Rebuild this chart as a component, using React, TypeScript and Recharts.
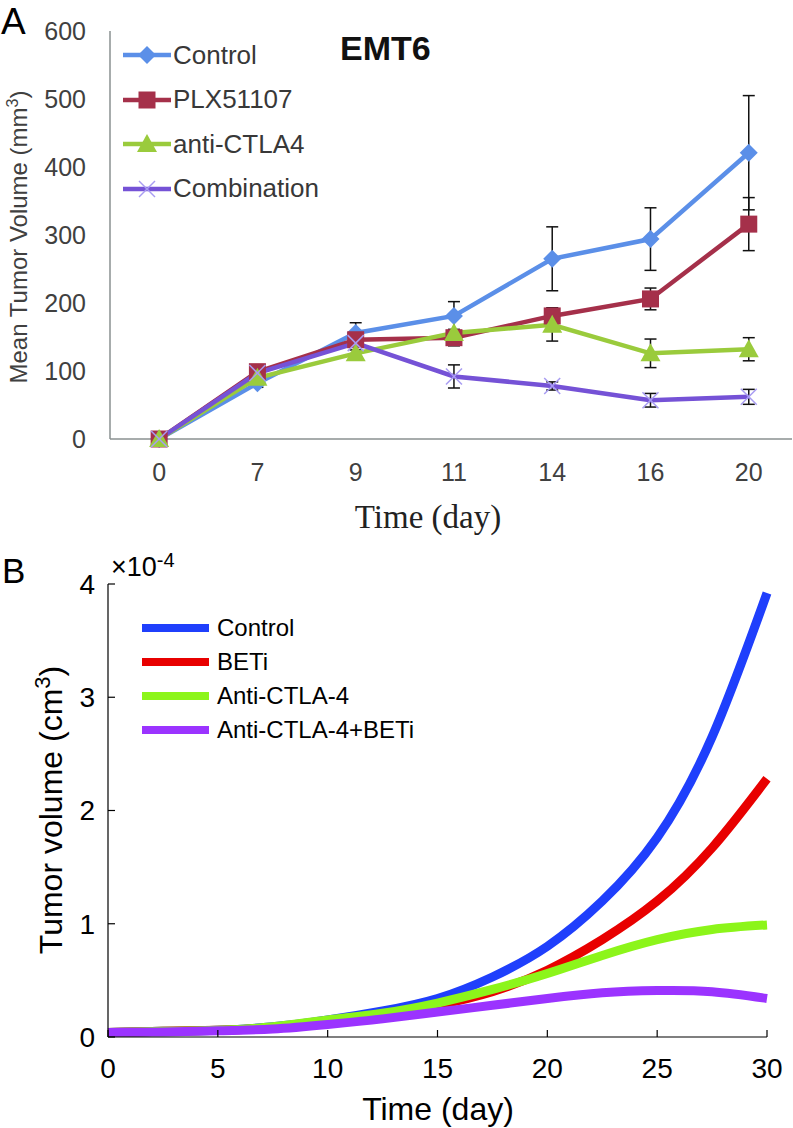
import React from 'react';
import { LineChart, Line, XAxis, YAxis, ErrorBar, Legend } from 'recharts';

// Panel A: measured mean tumour volume (mm3) per day
const daysA = ['0', '7', '9', '11', '14', '16', '20'];
const controlA = [0, 82, 156, 181, 265, 294, 421];
const controlErrA = [null, 6, 15, 21, 47, 46, 84];
const plxA = [0, 99, 146, 149, 181, 206, 316];
const plxErrA = [null, 9, 5, 12, 12, 16, 39];
const antiA = [0, 90, 126, 156, 168, 126, 132];
const antiErrA = [null, 5, 5, 5, 24, 21, 17];
const comboA = [0, 97, 141, 92, 78, 57, 62];
const comboErrA = [null, 5, 5, 17, 6, 10, 11];
const yTicksA = [0, 100, 200, 300, 400, 500, 600];

// Panel B: model curves (x 10^-4 cm3)
const timeB = [0, 2.5, 5, 7.5, 10, 12.5, 15, 17.5, 20, 22.5, 25, 27.5, 30];
const controlB = [0.04, 0.05, 0.06, 0.09, 0.15, 0.23, 0.34, 0.53, 0.8, 1.2, 1.76, 2.65, 3.92];
const betiB = [0.04, 0.05, 0.06, 0.08, 0.13, 0.19, 0.28, 0.4, 0.59, 0.86, 1.2, 1.67, 2.28];
const antiB = [0.04, 0.05, 0.06, 0.09, 0.15, 0.21, 0.3, 0.42, 0.56, 0.72, 0.86, 0.95, 0.99];
const comboB = [0.04, 0.045, 0.055, 0.07, 0.11, 0.16, 0.22, 0.28, 0.34, 0.39, 0.41, 0.4, 0.34];
const xTicksB = [0, 5, 10, 15, 20, 25, 30];
const yTicksB = [0, 1, 2, 3, 4];

const FONT = '"Liberation Sans", Arial, Helvetica, sans-serif';
const SERIF = '"Liberation Serif", "Times New Roman", serif';

const BLUE_A = '#5b8fe8';
const RED_A = '#a5304a';
const GREEN_A = '#9acb3c';
const PURPLE_A = '#7552d6';
const CROSS_A = '#a89cf2';

const BLUE_B = '#1f3ffc';
const RED_B = '#e80000';
const GREEN_B = '#8cf51a';
const PURPLE_B = '#9b33ff';

type Shape = 'diamond' | 'square' | 'triangle' | 'cross';

const rowsA = daysA.map((_, i) => ({
  idx: i,
  control: controlA[i],
  controlErr: controlErrA[i],
  plx: plxA[i],
  plxErr: plxErrA[i],
  anti: antiA[i],
  antiErr: antiErrA[i],
  combo: comboA[i],
  comboErr: comboErrA[i],
}));

const rowsB = timeB.map((t, i) => ({
  t,
  control: controlB[i],
  beti: betiB[i],
  anti: antiB[i],
  combo: comboB[i],
}));

function marker(shape: Shape, cx: number, cy: number, color: string, key?: string) {
  if (shape === 'diamond') {
    return <polygon key={key} points={`${cx},${cy - 9} ${cx + 9},${cy} ${cx},${cy + 9} ${cx - 9},${cy}`} fill={color} />;
  }
  if (shape === 'square') {
    return <rect key={key} x={cx - 8.5} y={cy - 8.5} width={17} height={17} fill={color} />;
  }
  if (shape === 'triangle') {
    return <polygon key={key} points={`${cx},${cy - 10} ${cx + 10},${cy + 8} ${cx - 10},${cy + 8}`} fill={color} />;
  }
  return (
    <g key={key}>
      <line x1={cx - 8} y1={cy - 8} x2={cx + 8} y2={cy + 8} stroke={CROSS_A} strokeWidth={1.5} />
      <line x1={cx - 8} y1={cy + 8} x2={cx + 8} y2={cy - 8} stroke={CROSS_A} strokeWidth={1.5} />
    </g>
  );
}

const dotFor = (shape: Shape, color: string) => (props: any) => {
  const { cx, cy, index } = props;
  if (cx == null || cy == null) return <g key={`none-${index}`} />;
  return marker(shape, cx, cy, color, `${shape}-${index}`);
};

const seriesA = [
  { name: 'Control', color: BLUE_A, shape: 'diamond' as Shape },
  { name: 'PLX51107', color: RED_A, shape: 'square' as Shape },
  { name: 'anti-CTLA4', color: GREEN_A, shape: 'triangle' as Shape },
  { name: 'Combination', color: PURPLE_A, shape: 'cross' as Shape },
];

const seriesB = [
  { name: 'Control', color: BLUE_B },
  { name: 'BETi', color: RED_B },
  { name: 'Anti-CTLA-4', color: GREEN_B },
  { name: 'Anti-CTLA-4+BETi', color: PURPLE_B },
];

function LegendA() {
  return (
    <div style={{ fontFamily: FONT, fontSize: 26, color: '#383838' }}>
      {seriesA.map((s) => (
        <div key={s.name} style={{ display: 'flex', alignItems: 'center', height: 44.5 }}>
          <svg width={48} height={22}>
            <line x1={0} y1={11} x2={48} y2={11} stroke={s.color} strokeWidth={4.5} />
            {marker(s.shape, 24, 11, s.color)}
          </svg>
          <span style={{ marginLeft: 2 }}>{s.name}</span>
        </div>
      ))}
    </div>
  );
}

function LegendB() {
  return (
    <div style={{ fontFamily: FONT, fontSize: 24, color: '#000' }}>
      {seriesB.map((s) => (
        <div key={s.name} style={{ display: 'flex', alignItems: 'center', height: 34 }}>
          <svg width={67} height={10}>
            <line x1={0} y1={5} x2={67} y2={5} stroke={s.color} strokeWidth={8} />
          </svg>
          <span style={{ marginLeft: 8 }}>{s.name}</span>
        </div>
      ))}
    </div>
  );
}

function PanelA() {
  const err = { width: 6, stroke: '#111', strokeWidth: 1.5, direction: 'y' as const, isAnimationActive: false };
  return (
    <LineChart width={793} height={540} data={rowsA} margin={{ top: 31, right: 1, left: 0, bottom: 0 }}>
      <XAxis
        dataKey="idx"
        type="number"
        domain={[-0.5, 6.44]}
        allowDataOverflow
        ticks={daysA.map((_, i) => i)}
        tickFormatter={(v: number) => daysA[v]}
        interval={0}
        height={101}
        axisLine={{ stroke: '#8a9090', strokeWidth: 1.5 }}
        tickLine={false}
        tickSize={0}
        tickMargin={24}
        tick={{ fill: '#404040', fontSize: 25, fontFamily: FONT }}
        label={{
          content: () => (
            <text x={428} y={528} textAnchor="middle" fontFamily={SERIF} fontSize={33} fill="#222">
              Time (day)
            </text>
          ),
        }}
      />
      <YAxis
        type="number"
        domain={[0, 600]}
        ticks={yTicksA}
        width={110}
        axisLine={{ stroke: '#8a9090', strokeWidth: 1.5 }}
        tickLine={false}
        tickSize={0}
        tickMargin={24}
        tick={{ fill: '#404040', fontSize: 25, fontFamily: FONT }}
        label={{
          content: () => (
            <text transform="translate(27,237) rotate(-90)" textAnchor="middle" fontFamily={FONT} fontSize={24} fill="#404040">
              Mean Tumor Volume (mm<tspan dy={-9} fontSize={16}>3</tspan>
              <tspan dy={9}>)</tspan>
            </text>
          ),
        }}
      />
      <Legend
        layout="horizontal"
        verticalAlign="middle"
        align="center"
        wrapperStyle={{ left: 123, top: 33, width: 'auto' }}
        content={() => <LegendA />}
      />
      <Line dataKey="control" name="Control" stroke={BLUE_A} strokeWidth={4.5} dot={dotFor('diamond', BLUE_A)} activeDot={false} isAnimationActive={false}>
        <ErrorBar dataKey="controlErr" {...err} />
      </Line>
      <Line dataKey="plx" name="PLX51107" stroke={RED_A} strokeWidth={4.5} dot={dotFor('square', RED_A)} activeDot={false} isAnimationActive={false}>
        <ErrorBar dataKey="plxErr" {...err} />
      </Line>
      <Line dataKey="anti" name="anti-CTLA4" stroke={GREEN_A} strokeWidth={4.5} dot={dotFor('triangle', GREEN_A)} activeDot={false} isAnimationActive={false}>
        <ErrorBar dataKey="antiErr" {...err} />
      </Line>
      <Line dataKey="combo" name="Combination" stroke={PURPLE_A} strokeWidth={4.5} dot={dotFor('cross', PURPLE_A)} activeDot={false} isAnimationActive={false}>
        <ErrorBar dataKey="comboErr" {...err} />
      </Line>
    </LineChart>
  );
}

function PanelB() {
  return (
    <LineChart width={793} height={588} data={rowsB} margin={{ top: 44, right: 26, left: 0, bottom: 0 }}>
      <XAxis
        dataKey="t"
        type="number"
        domain={[0, 30]}
        ticks={xTicksB}
        interval={0}
        height={91}
        axisLine={{ stroke: '#000', strokeWidth: 1.2 }}
        tickLine={{ stroke: '#000', strokeWidth: 1.2 }}
        tickSize={-7}
        tickMargin={28}
        tick={{ fill: '#000', fontSize: 28, fontFamily: FONT }}
        label={{
          content: () => (
            <text x={438} y={580} textAnchor="middle" fontFamily={FONT} fontSize={32} fill="#000">
              Time (day)
            </text>
          ),
        }}
      />
      <YAxis
        type="number"
        domain={[0, 4]}
        ticks={yTicksB}
        width={108}
        axisLine={{ stroke: '#000', strokeWidth: 1.2 }}
        tickLine={{ stroke: '#000', strokeWidth: 1.2 }}
        tickSize={-7}
        tickMargin={20}
        tick={{ fill: '#000', fontSize: 28, fontFamily: FONT }}
        label={{
          content: () => (
            <text transform="translate(62,270) rotate(-90)" textAnchor="middle" fontFamily={FONT} fontSize={32} fill="#000">
              Tumor volume (cm<tspan dy={-12} fontSize={22}>3</tspan>
              <tspan dy={12}>)</tspan>
            </text>
          ),
        }}
      />
      <Legend
        layout="horizontal"
        verticalAlign="middle"
        align="center"
        wrapperStyle={{ left: 142, top: 71, width: 'auto' }}
        content={() => <LegendB />}
      />
      <Line type="natural" dataKey="control" name="Control" stroke={BLUE_B} strokeWidth={9} dot={false} activeDot={false} isAnimationActive={false} />
      <Line type="natural" dataKey="beti" name="BETi" stroke={RED_B} strokeWidth={9} dot={false} activeDot={false} isAnimationActive={false} />
      <Line type="natural" dataKey="anti" name="Anti-CTLA-4" stroke={GREEN_B} strokeWidth={9} dot={false} activeDot={false} isAnimationActive={false} />
      <Line type="natural" dataKey="combo" name="Anti-CTLA-4+BETi" stroke={PURPLE_B} strokeWidth={9} dot={false} activeDot={false} isAnimationActive={false} />
    </LineChart>
  );
}

export default function App() {
  return (
    <div style={{ position: 'absolute', left: 0, top: 0, width: 793, height: 1128, background: '#fff', overflow: 'hidden' }}>
      <div style={{ position: 'absolute', left: 0, top: 0 }}>
        <PanelA />
      </div>
      <div style={{ position: 'absolute', left: 0, top: 540 }}>
        <PanelB />
      </div>
      <div style={{ position: 'absolute', left: 1, top: 3, fontFamily: FONT, fontSize: 37, lineHeight: 1, color: '#000' }}>A</div>
      <div style={{ position: 'absolute', left: 2, top: 553, fontFamily: FONT, fontSize: 35, lineHeight: 1, color: '#000' }}>B</div>
      <div style={{ position: 'absolute', left: 340, top: 31, fontFamily: FONT, fontSize: 34, fontWeight: 700, lineHeight: 1, color: '#111' }}>EMT6</div>
      <div style={{ position: 'absolute', left: 111, top: 554, fontFamily: FONT, fontSize: 27, lineHeight: 1, color: '#000', whiteSpace: 'nowrap' }}>
        ×10<span style={{ fontSize: 20, position: 'relative', top: -9 }}>-4</span>
      </div>
    </div>
  );
}
